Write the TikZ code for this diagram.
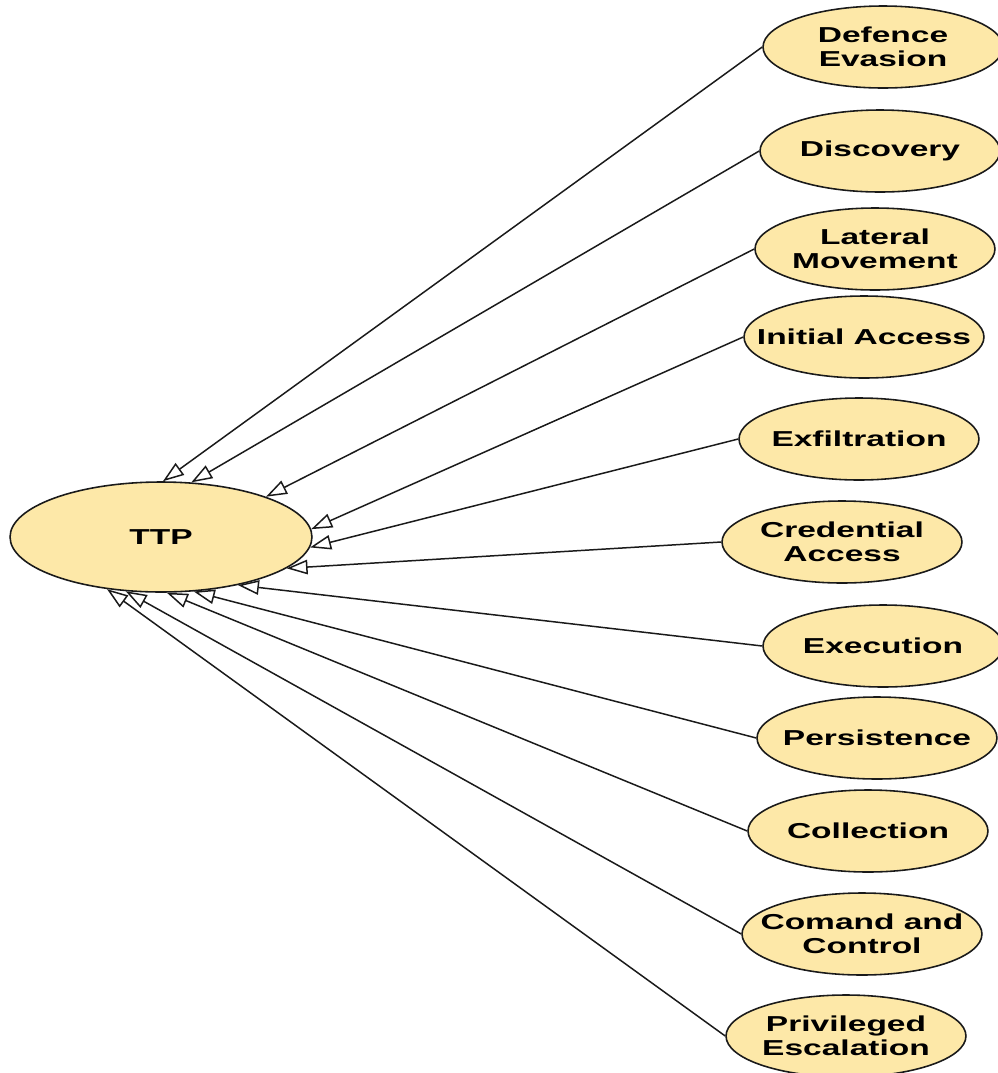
\documentclass[tikz,border=0pt]{standalone}
\usepackage{fontspec}
\newfontfamily\tacticfont[FakeStretch=1.55]{Liberation Sans}
\usetikzlibrary{arrows.meta, shapes.geometric}
\definecolor{tFill}{HTML}{FDE8A8}
\definecolor{tLine}{HTML}{1A1A1A}

\begin{document}
\begin{tikzpicture}[
  x=0.02cm, y=-0.02cm,
  lbl/.style={font=\tacticfont\bfseries\fontsize{12.3}{13.6}\selectfont,
              align=center, inner sep=0pt},
  tactic/.style={ellipse, draw=tLine, fill=tFill, line width=0.9pt, inner sep=0pt,
                 minimum width=4.8cm, minimum height=1.64cm},
  root/.style={tactic, minimum width=6.04cm, minimum height=2.2cm},
  ar/.style={-{Triangle[open, length=0.42cm, width=0.29cm]}, draw=tLine, line width=0.85pt}
]
\useasboundingbox (0,0) rectangle (998,1073);
\node[root, label={[lbl, name=ttp-t]center:TTP}] (ttp) at (161,537) {};
\node[tactic, label={[lbl, name=de-t]center:{Defence\\Evasion}}]       (de)   at (883,47) {};
\node[tactic, label={[lbl, name=disc-t]center:Discovery}]              (disc) at (880,151) {};
\node[tactic, label={[lbl, name=lat-t]center:{Lateral\\Movement}}]     (lat)  at (875,249) {};
\node[tactic, label={[lbl, name=init-t]center:Initial Access}]         (init) at (864,337) {};
\node[tactic, label={[lbl, name=exf-t]center:Exfiltration}]            (exf)  at (859,439) {};
\node[tactic, label={[lbl, name=cred-t]center:{Credential\\Access}}]   (cred) at (842,542) {};
\node[tactic, label={[lbl, name=exe-t]center:Execution}]               (exe)  at (883,646) {};
\node[tactic, label={[lbl, name=pers-t]center:Persistence}]            (pers) at (877,738) {};
\node[tactic, label={[lbl, name=coll-t]center:Collection}]             (coll) at (868,831) {};
\node[tactic, label={[lbl, name=cmd-t]center:{Comand and\\Control}}]   (cmd)  at (862,934) {};
\node[tactic, label={[lbl, name=priv-t]center:{Privileged\\Escalation}}] (priv) at (846,1036) {};
\foreach \s/\a in {de/88,disc/61,lat/21,init/3,exf/-4,cred/-14,exe/-32,pers/-59,coll/-84,cmd/-123,priv/-136}
  \draw[ar] (\s.west) -- (ttp.\a);
\end{tikzpicture}
\end{document}
